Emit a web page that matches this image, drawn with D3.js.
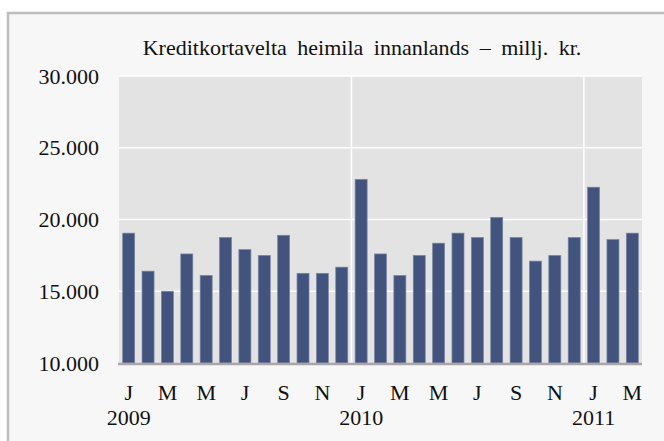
<!DOCTYPE html>
<html>
<head>
<meta charset="utf-8">
<script src="https://d3js.org/d3.v7.min.js"></script>
<style>
  body { margin: 0; background: #fff; }
  svg text { font-family: "Liberation Serif", "Times New Roman", serif; fill: #111; }
</style>
</head>
<body>
<div id="chart"></div>
<script>
// monthly card turnover, Jan 2009 - Mar 2011 (millj. kr.)
const months = ["J","F","M","A","M","J","J","A","S","O","N","D",
                "J","F","M","A","M","J","J","A","S","O","N","D",
                "J","F","M"];
const years = ["2009", "2010", "2011"];
const values = [19050, 16400, 15000, 17600, 16100, 18750, 17900, 17500, 18900, 16250, 16250, 16680,
                22800, 17600, 16100, 17500, 18350, 19050, 18750, 20150, 18750, 17100, 17500, 18750,
                22250, 18600, 19050];
const yTicks = [10000, 15000, 20000, 25000, 30000];

const W = 664, H = 441;
const margin = {top: 76, right: 22, bottom: 78, left: 119};

const svg = d3.select("#chart").append("svg")
    .attr("width", W).attr("height", H);

// outer frame (cut off at right and bottom)
svg.append("rect")
    .attr("x", 8).attr("y", 13)
    .attr("width", W).attr("height", H)
    .attr("fill", "#f7f7f7")
    .attr("stroke", "#bdbdbd").attr("stroke-width", 2.5);

const x = d3.scaleBand()
    .domain(d3.range(values.length))
    .range([margin.left, W - margin.right])
    .paddingInner(0.38).paddingOuter(0.19);

const y = d3.scaleLinear()
    .domain([10000, 30000])
    .range([H - margin.bottom, margin.top]);

const locale = d3.formatLocale({decimal: ",", thousands: ".", grouping: [3], currency: ["", ""]});
const fmt = locale.format(",");

// plot background
svg.append("rect")
    .attr("x", x.range()[0]).attr("y", y(30000))
    .attr("width", x.range()[1] - x.range()[0])
    .attr("height", y(10000) - y(30000))
    .attr("fill", "#e3e3e3");

// horizontal gridlines
svg.append("g").selectAll("line")
    .data(yTicks.slice(1))
    .join("line")
    .attr("x1", x.range()[0]).attr("x2", x.range()[1])
    .attr("y1", d => y(d)).attr("y2", d => y(d))
    .attr("stroke", "#fff").attr("stroke-width", 1.5);

// year separators
const step = x.step();
svg.append("g").selectAll("line")
    .data([12, 24])
    .join("line")
    .attr("x1", d => x.range()[0] + d * step).attr("x2", d => x.range()[0] + d * step)
    .attr("y1", y(30000)).attr("y2", y(10000))
    .attr("stroke", "#fff").attr("stroke-width", 1.5);

// bars
svg.append("g").selectAll("rect")
    .data(values)
    .join("rect")
    .attr("x", (d, i) => x(i))
    .attr("y", d => y(d))
    .attr("width", x.bandwidth())
    .attr("height", d => y(10000) - y(d))
    .attr("fill", "#42537e")
    .attr("stroke", "#7b86a5").attr("stroke-width", 0.7);

// bottom axis line
svg.append("line")
    .attr("x1", x.range()[0] - 1).attr("x2", x.range()[1])
    .attr("y1", y(10000) + 1).attr("y2", y(10000) + 1)
    .attr("stroke", "#aaa6a6").attr("stroke-width", 2.5);

// y axis labels
const yAxis = svg.append("g")
    .attr("transform", `translate(${margin.left - 20},0)`)
    .call(d3.axisLeft(y).tickValues(yTicks).tickFormat(fmt).tickSize(0).tickPadding(0));
yAxis.select(".domain").remove();
yAxis.selectAll("text")
    .style("font-size", "22px")
    .attr("fill", "#111");

// x axis: month letters every other month
const xAxis = svg.append("g")
    .attr("transform", `translate(0,${y(10000)})`)
    .call(d3.axisBottom(x)
        .tickValues(d3.range(0, values.length, 2))
        .tickFormat(i => months[i])
        .tickSize(0).tickPadding(0));
xAxis.select(".domain").remove();
xAxis.selectAll("text")
    .attr("dy", null)
    .attr("y", 37)
    .style("font-size", "22px")
    .attr("fill", "#111");

// year labels under each January
svg.append("g").selectAll("text")
    .data(years)
    .join("text")
    .attr("x", (d, i) => x(i * 12) + x.bandwidth() / 2)
    .attr("y", 425)
    .attr("text-anchor", "middle")
    .style("font-size", "22px")
    .text(d => d);

// title
svg.append("text")
    .attr("x", 362).attr("y", 55)
    .attr("text-anchor", "middle")
    .style("font-size", "22px")
    .style("word-spacing", "5px")
    .text("Kreditkortavelta heimila innanlands \u2013 millj. kr.");
</script>
</body>
</html>
